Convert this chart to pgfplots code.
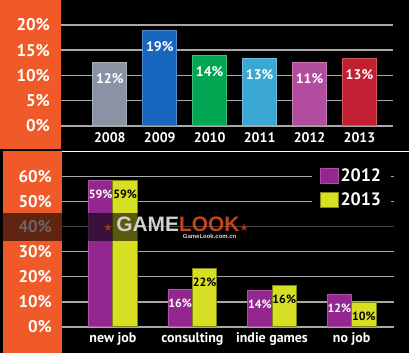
\documentclass[border=0pt]{standalone}
\usepackage{pgfplots}
\pgfplotsset{compat=1.18}
\usepackage{fontspec}
\setmainfont{PT Sans}
\newfontfamily\symfont{DejaVu Sans}
\newfontfamily\wmfont{Liberation Sans}
\definecolor{orng}{HTML}{F05A28}
\definecolor{c08}{HTML}{8A93A3}
\definecolor{c09}{HTML}{1766BE}
\definecolor{c10}{HTML}{00A651}
\definecolor{c11}{HTML}{3AA8D2}
\definecolor{c12}{HTML}{B14C9E}
\definecolor{c13}{HTML}{C21F32}
\definecolor{purp}{HTML}{93278F}
\definecolor{ylw}{HTML}{D7DF23}
\definecolor{gridc}{HTML}{A8A8A8}
\definecolor{lookc}{HTML}{C2461A}
\begin{document}
\begin{tikzpicture}[x=1bp,y=1bp]
\fill[black] (0,0) rectangle (410,354);
\fill[orng] (0,205) rectangle (61,354);
\fill[orng] (3,0) rectangle (62,203);
\draw[white, line width=1.2bp] (62,202.5) -- (410,202.5);

\begin{axis}[
  at={(61bp,228bp)}, anchor=south west,
  scale only axis, width=333bp, height=101bp,
  xmin=-0.98, xmax=5.68, ymin=0, ymax=20,
  axis line style={draw=none}, major tick length=0pt,
  ymajorgrids, grid style={line width=1.6bp, color=gridc},
  ytick={0,5,10,15,20}, yticklabels={0\%,5\%,10\%,15\%,20\%},
  xtick={0,1,2,3,4,5}, xticklabels={2008,2009,2010,2011,2012,2013},
  yticklabel style={text=white, font=\fontsize{17}{17}\selectfont\bfseries, xshift=-7.5bp},
  xticklabel style={text=white, font=\fontsize{14}{14}\selectfont\bfseries, yshift=-3bp},
  clip=false,
  point meta=explicit symbolic,
  nodes near coords,
  every node near coord/.append style={text=white, font=\fontsize{14}{14}\selectfont\bfseries, anchor=center, yshift=-16bp},
]
\addplot[ybar, bar shift=0pt, bar width=34bp, fill=c08, draw=c08!75!white, line width=0.8bp] coordinates {(0,12.6) [12\%]};
\addplot[ybar, bar shift=0pt, bar width=34bp, fill=c09, draw=c09!75!white, line width=0.8bp] coordinates {(1,18.9) [19\%]};
\addplot[ybar, bar shift=0pt, bar width=34bp, fill=c10, draw=c10!75!white, line width=0.8bp] coordinates {(2,14.0) [14\%]};
\addplot[ybar, bar shift=0pt, bar width=34bp, fill=c11, draw=c11!75!white, line width=0.8bp] coordinates {(3,13.3) [13\%]};
\addplot[ybar, bar shift=0pt, bar width=34bp, fill=c12, draw=c12!75!white, line width=0.8bp] coordinates {(4,12.5) [11\%]};
\addplot[ybar, bar shift=0pt, bar width=34bp, fill=c13, draw=c13!75!white, line width=0.8bp] coordinates {(5,13.3) [13\%]};
\end{axis}

\begin{axis}[
  at={(62bp,26.7bp)}, anchor=south west,
  scale only axis, width=333bp, height=150.6bp,
  xmin=-0.64, xmax=3.538, ymin=0, ymax=60,
  axis line style={draw=none}, major tick length=0pt,
  ymajorgrids, grid style={line width=1.6bp, color=gridc},
  ytick={0,10,20,30,40,50,60}, yticklabels={0\%,10\%,20\%,30\%,40\%,50\%,60\%},
  xtick={0,1,2,3}, xticklabels={new job,consulting,indie games,no job},
  yticklabel style={text=white, font=\fontsize{17}{17}\selectfont\bfseries, xshift=-6.5bp},
  xticklabel style={text=white, font=\fontsize{14}{14}\selectfont\bfseries, yshift=-2bp},
  clip=false,
  ybar=0pt, bar width=24.5bp,
  point meta=explicit symbolic,
  nodes near coords,
  every node near coord/.append style={font=\fontsize{12}{12}\selectfont\bfseries, anchor=center, yshift=-14bp},
  legend style={at={(rel axis cs:0.7508,1)}, anchor=north west, yshift=13.7bp,
    fill=black, draw=none, text=white, font=\fontsize{18}{18}\selectfont\bfseries,
    inner xsep=8bp, inner ysep=4bp, row sep=6bp},
  legend cell align=left,
  legend image code/.code={\draw[#1, line width=0.8bp] (0bp,-7.5bp) rectangle (18bp,8bp);},
]
\addplot[fill=purp, draw=purp!80!white, line width=0.8bp, every node near coord/.append style={text=white}]
  coordinates {(0,58.5) [59\%] (1,15.0) [16\%] (2,14.7) [14\%] (3,13.0) [12\%]};
\addplot[fill=ylw, draw=ylw!60!black, line width=0.8bp, every node near coord/.append style={text=black}]
  coordinates {(0,58.5) [59\%] (1,23.2) [22\%] (2,16.6) [16\%] (3,9.8) [10\%]};
\legend{2012,2013}
\end{axis}

% watermark band
\fill[black, opacity=0.6] (0,113) rectangle (410,141);
\node[anchor=west, inner sep=0pt, font=\wmfont\fontsize{21}{21}\selectfont\bfseries] at (103,129)
  {{\symfont\fontsize{11}{11}\selectfont\color{lookc!80!black}★}\,{\color{white!82!black}GAME}{\color{lookc}LOOK}{\symfont\fontsize{11}{11}\selectfont\color{lookc!80!black}★}};
\node[anchor=west, inner sep=0pt, font=\wmfont\fontsize{6}{6}\selectfont\bfseries, text=white!85!black] at (183,117) {GameLook.com.cn};
\end{tikzpicture}
\end{document}
